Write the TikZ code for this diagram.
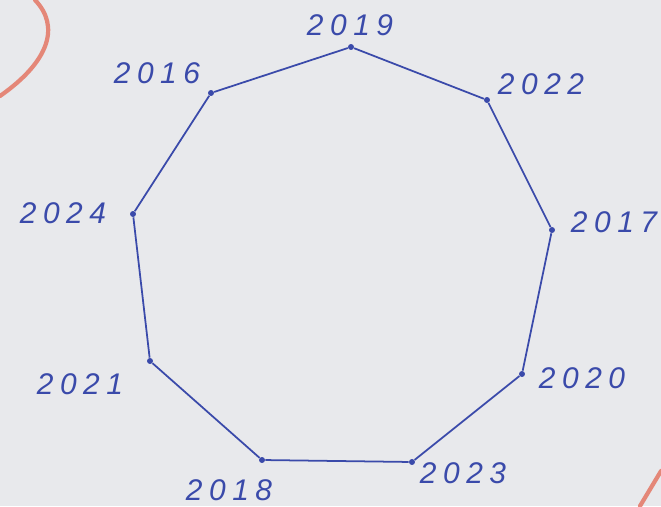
\documentclass[tikz,border=0pt]{standalone}
\usepackage{fontspec}
\usepackage{tikz}
\usetikzlibrary{positioning}
\usepackage{xcolor}
\definecolor{colink}{HTML}{3A4AAA}
\definecolor{colpaper}{HTML}{E8E9EC}
\definecolor{colpencil}{HTML}{E46F5C}
\newfontfamily\handfont[LetterSpace=22]{Liberation Sans}

\begin{document}
\begin{tikzpicture}[every node/.style={font=\handfont\itshape\fontsize{17}{17}\selectfont,text=colink}]
    \fill[colpaper] (0,0) rectangle (13.22,10.12);
    \useasboundingbox (0,0) rectangle (13.22,10.12);
    % pencil strokes on the paper
    \draw[colpencil,line width=2.4pt,line cap=round,opacity=0.8] (0,8.2) .. controls (1.0,8.9) and (1.2,9.6) .. (0.7,10.12);
    \draw[colpencil,line width=2.4pt,line cap=round,opacity=0.8] (12.8,0) -- (13.22,0.7);
    % corners of the polygon
    \foreach \n/\x/\y in {y19/7.02/9.18,y22/9.74/8.12,y17/11.04/5.52,y20/10.44/2.64,y23/8.24/0.88,y18/5.24/0.92,y21/3.00/2.90,y24/2.66/5.84,y16/4.22/8.26}
      \node[circle,fill=colink,inner sep=0pt,minimum size=3.4pt] (\n) at (\x,\y) {};
    \node (t19) at (7.0,9.62) {2019};
    \node (t22) at (10.82,8.44) {2022};
    \node (t17) at (12.28,5.68) {2017};
    \node (t20) at (11.64,2.56) {2020};
    \node (t23) at (9.26,0.66) {2023};
    \node (t18) at (4.58,0.32) {2018};
    \node (t21) at (1.6,2.44) {2021};
    \node (t24) at (1.26,5.86) {2024};
    \node (t16) at (3.14,8.66) {2016};
    \foreach \s/\t in {y19/y22,y22/y17,y17/y20,y20/y23,y23/y18,y18/y21,y21/y24,y24/y16,y16/y19}
      \draw[colink,line width=1pt] (\s) -- (\t);
  \end{tikzpicture}
\end{document}
